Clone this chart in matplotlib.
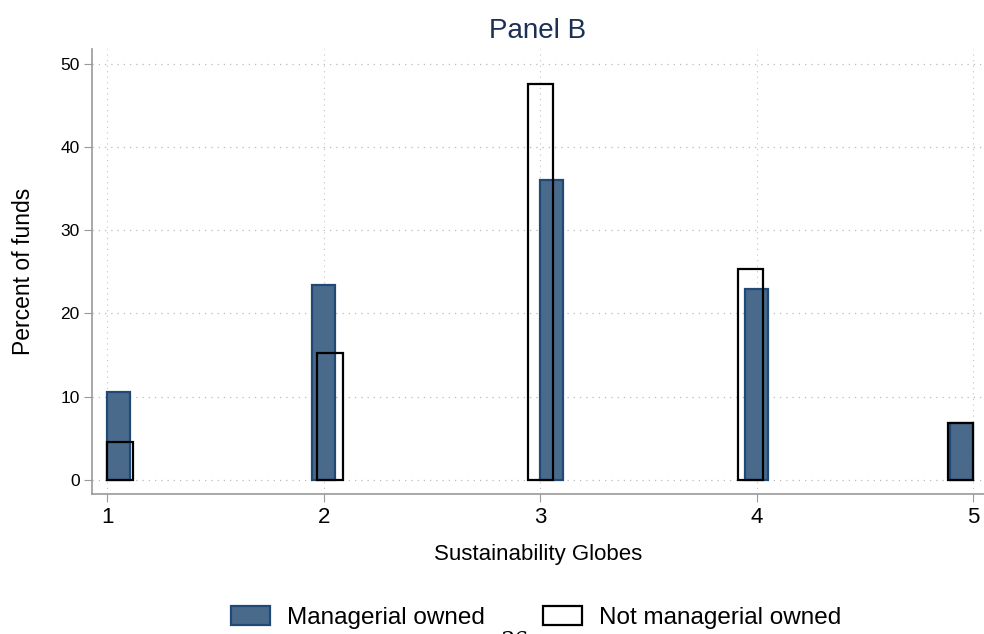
import matplotlib.pyplot as plt
from matplotlib.patches import Patch
import numpy as np

plt.rcParams["font.family"] = ["Liberation Sans", "DejaVu Sans"]

globes = [1, 2, 3, 4, 5]
managerial = [10.6, 23.4, 36.1, 23.0, 6.8]
not_managerial = [4.6, 15.2, 47.6, 25.3, 6.8]
xticks = [1, 2, 3, 4, 5]
yticks = [0, 10, 20, 30, 40, 50]

FILL = "#4a6a8c"
EDGE = "#1f4a76"
TITLE = "#1c2f55"
AXIS = "#999999"


def stata_bins(values, lo, hi, nbins):
    """Left edges of the histogram bins that hold each value."""
    width = (hi - lo) / nbins
    k = np.floor((np.asarray(values, float) - lo) / width + 1e-9)
    k = np.clip(k, 0, nbins - 1)
    return lo + k * width, width


def main():
    fig = plt.figure(figsize=(9.84, 6.34), dpi=100)
    ax = fig.add_axes([0.0935, 0.2208, 0.9065, 0.702])

    g = np.asarray(globes, float)

    # hollow bars: second histogram, slightly narrower spacing of bins
    width_n = 0.117
    centers_n = g + (3 - g) * 0.03
    ax.bar(centers_n - width_n / 2, not_managerial, width=width_n, align="edge",
           facecolor="none", edgecolor="black", lw=1.6, zorder=3)

    left_m, width_m = stata_bins(globes, 1, 5, 38)
    ax.bar(left_m, managerial, width=width_m, align="edge",
           facecolor=FILL, edgecolor=EDGE, lw=1.6, zorder=2)

    ax.set_xlim(0.93, 5.05)
    ax.set_ylim(-1.7, 51.8)
    ax.set_xticks(xticks)
    ax.set_yticks(yticks)
    ax.tick_params(axis="x", labelsize=16, length=6, color=AXIS, pad=3)
    ax.tick_params(axis="y", labelsize=12.5, length=6, color=AXIS, pad=3)

    for v in yticks:
        ax.axhline(v, color="#bbbbbb", lw=0.9, ls=(0, (1, 4)), zorder=0)
    for v in xticks:
        ax.axvline(v, color="#c4c4c4", lw=0.8, ls=(0, (1, 4)), zorder=0)

    for key in ["top", "right"]:
        ax.spines[key].set_visible(False)
    for key in ["left", "bottom"]:
        ax.spines[key].set_color(AXIS)
        ax.spines[key].set_linewidth(1.2)

    ax.set_xlabel("Sustainability Globes", fontsize=16, labelpad=12)
    ax.set_ylabel("Percent of funds", fontsize=16.5, labelpad=18)
    ax.set_title("Panel B", fontsize=20, color=TITLE, pad=8)

    handles = [
        Patch(facecolor=FILL, edgecolor=EDGE, lw=1.6, label="Managerial owned"),
        Patch(facecolor="none", edgecolor="black", lw=1.6, label="Not managerial owned"),
    ]
    fig.legend(handles=handles, loc="center", bbox_to_anchor=(0.545, 0.026),
               ncol=2, frameon=False, fontsize=17.5, handlelength=1.6,
               handleheight=0.8, columnspacing=2.4, handletextpad=0.7)

    fig.text(0.523, 0.006, "36", fontsize=16, family="DejaVu Serif",
             ha="center", va="top")

    fig.savefig("out.png", dpi=100)


main()
